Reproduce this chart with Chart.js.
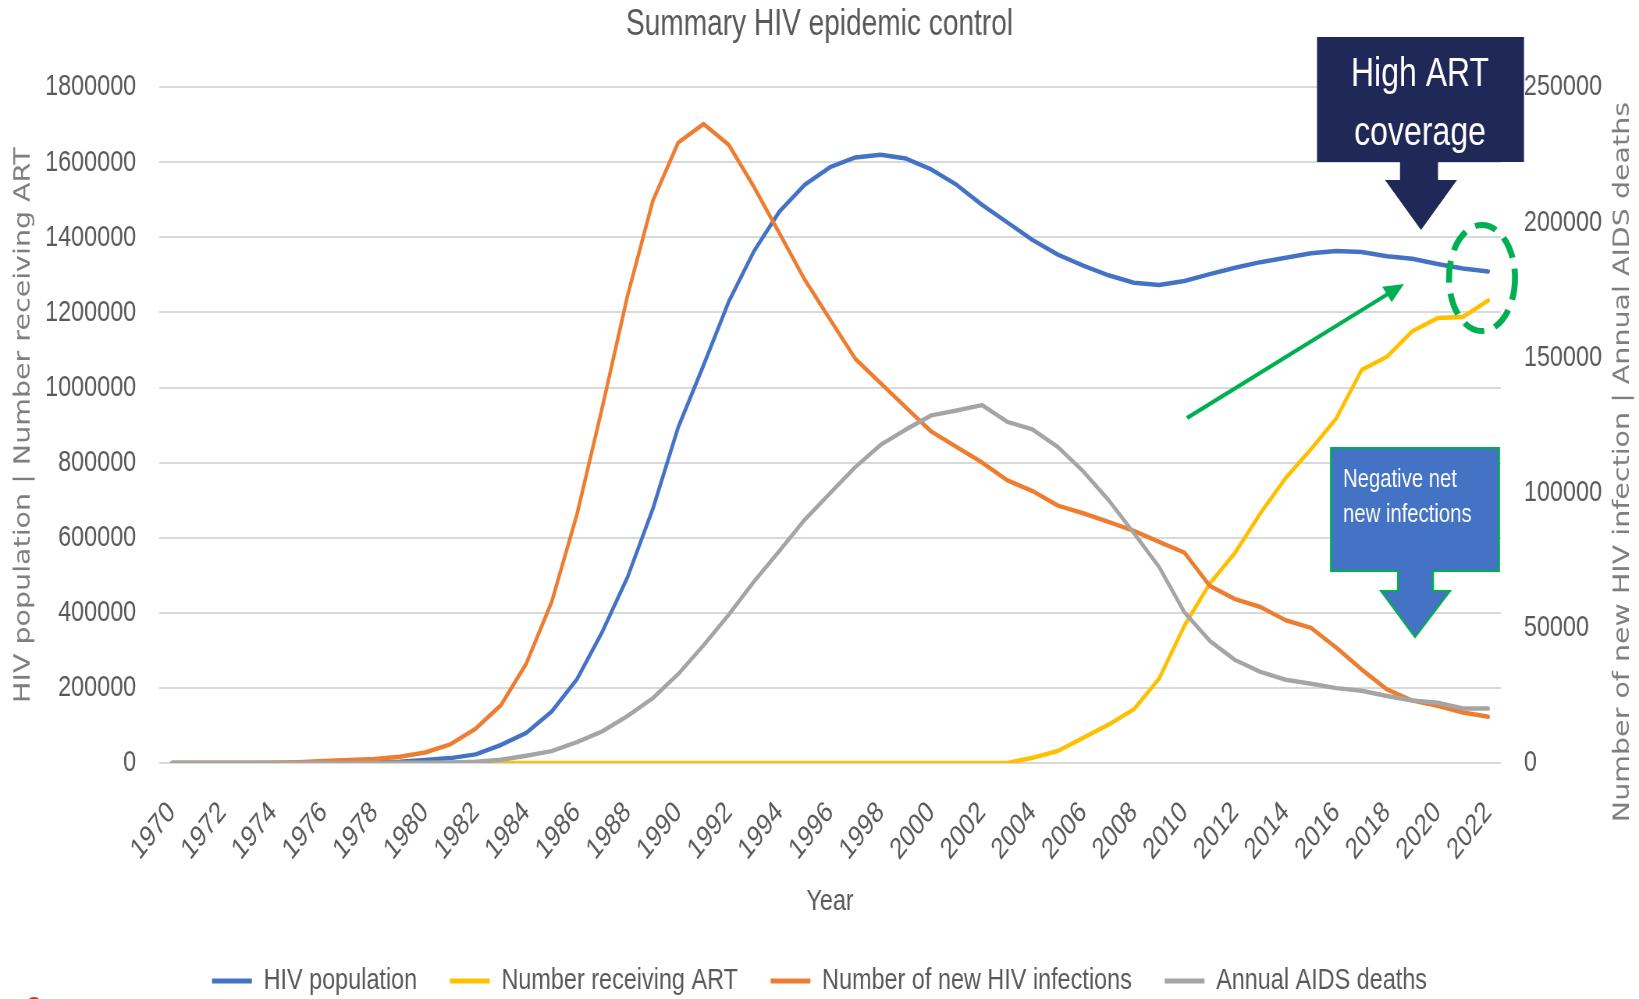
<!DOCTYPE html>
<html>
<head>
<meta charset="utf-8">
<title>Summary HIV epidemic control</title>
<script src="https://cdn.jsdelivr.net/npm/chart.js@4.4.1/dist/chart.umd.min.js"></script>
<style>
  html, body { margin: 0; padding: 0; background: #fff; overflow: hidden; }
  /* the source picture is an Excel chart squeezed sideways; draw wide, then squeeze */
  #hivChart { transform: scaleX(0.780476); transform-origin: 0 0; }
</style>
</head>
<body>
<canvas id="hivChart" width="2100" height="999"></canvas>
<script>
const years = [
  '1970', '1971', '1972', '1973', '1974', '1975', '1976', '1977', '1978', '1979',
  '1980', '1981', '1982', '1983', '1984', '1985', '1986', '1987', '1988', '1989',
  '1990', '1991', '1992', '1993', '1994', '1995', '1996', '1997', '1998', '1999',
  '2000', '2001', '2002', '2003', '2004', '2005', '2006', '2007', '2008', '2009',
  '2010', '2011', '2012', '2013', '2014', '2015', '2016', '2017', '2018', '2019',
  '2020', '2021', '2022'
];

// left axis
const hivPopulation = [
  0, 0, 0, 0, 0, 200, 500, 900, 1600, 3500,
  8000, 13000, 23000, 48000, 80000, 137000, 223000, 349000, 495000, 677000,
  894000, 1059000, 1229000, 1364000, 1469000, 1540000, 1587000, 1613000, 1620000, 1610000,
  1581000, 1540000, 1487000, 1440000, 1393000, 1354000, 1325000, 1299000, 1279000, 1273000,
  1284000, 1302000, 1319000, 1334000, 1346000, 1358000, 1364000, 1361000, 1350000, 1343000,
  1329000, 1317000, 1309000
];
const receivingArt = [
  0, 0, 0, 0, 0, 0, 0, 0, 0, 0,
  0, 0, 0, 0, 0, 0, 0, 0, 0, 0,
  0, 0, 0, 0, 0, 0, 0, 0, 0, 0,
  0, 0, 0, 0, 14000, 32000, 67000, 102000, 143000, 225000,
  366000, 478000, 560000, 665000, 759000, 836000, 918000, 1047000, 1082000, 1150000,
  1185000, 1188000, 1232000
];

// right axis
const newInfections = [
  0, 0, 0, 0, 100, 300, 700, 1100, 1500, 2300,
  3900, 6900, 12700, 21400, 36800, 59500, 91900, 131500, 172900, 208000,
  229500, 236400, 228700, 213000, 196000, 178800, 164100, 149500, 140500, 131500,
  122600, 116900, 111200, 104600, 100600, 95200, 92400, 89200, 85900, 81800,
  77800, 65500, 60600, 57700, 52800, 50000, 42700, 34600, 27200, 23100,
  21200, 18700, 17100
];
const aidsDeaths = [
  0, 0, 0, 0, 0, 0, 0, 0, 0, 0,
  0, 200, 500, 1200, 2700, 4400, 7700, 11700, 17400, 24000,
  32900, 43500, 54900, 67200, 78500, 90000, 99800, 109500, 117700, 123400,
  128600, 130400, 132400, 126200, 123400, 116900, 107900, 97300, 85100, 72500,
  55700, 45200, 38100, 33700, 30800, 29300, 27700, 26700, 24800, 23100,
  22300, 20200, 20200
];

const leftTicks = { min: 0, max: 1800000, step: 200000 };
const rightTicks = { min: 0, max: 250000, step: 50000 };

const squeeze = 1639 / 2100;
const sans = "'Liberation Sans', Arial, sans-serif";
const wide = "'DejaVu Sans', Verdana, sans-serif";
const textGrey = '#595959';
const titleGrey = '#7f7f7f';

// callouts, arrow, ring and the right hand axis title (reads bottom to top)
const annotate = {
  id: 'annotate',
  afterDraw(chart) {
    const c = chart.ctx;

    c.save();
    c.translate(1623 / squeeze, 462);
    c.rotate(-Math.PI / 2);
    c.fillStyle = titleGrey;
    c.font = '28.5px ' + wide;
    c.textAlign = 'center';
    c.textBaseline = 'middle';
    c.fillText('Number of new HIV infection | Annual AIDS deaths', 0, 0);
    c.restore();

    // shapes given in picture pixels, so undo the squeeze for them
    c.save();
    c.scale(1 / squeeze, 1);

    c.strokeStyle = '#00b050';
    c.fillStyle = '#00b050';
    c.lineWidth = 4;
    const x0 = 1187, y0 = 418, x1 = 1404, y1 = 284;
    const ang = Math.atan2(y1 - y0, x1 - x0);
    c.beginPath();
    c.moveTo(x0, y0);
    c.lineTo(x1 - 14 * Math.cos(ang), y1 - 14 * Math.sin(ang));
    c.stroke();
    c.beginPath();
    c.moveTo(x1, y1);
    c.lineTo(x1 - 20 * Math.cos(ang) + 9 * Math.sin(ang), y1 - 20 * Math.sin(ang) - 9 * Math.cos(ang));
    c.lineTo(x1 - 20 * Math.cos(ang) - 9 * Math.sin(ang), y1 - 20 * Math.sin(ang) + 9 * Math.cos(ang));
    c.closePath();
    c.fill();

    c.lineWidth = 6;
    c.setLineDash([22, 11]);
    c.beginPath();
    c.ellipse(1482, 278, 33, 53, 0, 0, Math.PI * 2);
    c.stroke();
    c.setLineDash([]);

    c.fillStyle = '#1f2857';
    c.beginPath();
    c.moveTo(1317, 37); c.lineTo(1524, 37); c.lineTo(1524, 162);
    c.lineTo(1438, 162); c.lineTo(1438, 180); c.lineTo(1457, 180);
    c.lineTo(1421, 230);
    c.lineTo(1385, 180); c.lineTo(1400, 180); c.lineTo(1400, 162);
    c.lineTo(1317, 162);
    c.closePath();
    c.fill();

    c.fillStyle = '#4472c4';
    c.strokeStyle = '#00b050';
    c.lineWidth = 2;
    c.beginPath();
    c.moveTo(1331, 448); c.lineTo(1499, 448); c.lineTo(1499, 571);
    c.lineTo(1433, 571); c.lineTo(1433, 591); c.lineTo(1450, 591);
    c.lineTo(1415, 637);
    c.lineTo(1381, 591); c.lineTo(1398, 591); c.lineTo(1398, 571);
    c.lineTo(1331, 571);
    c.closePath();
    c.fill();
    c.stroke();

    c.fillStyle = '#c0392b';
    c.beginPath();
    c.arc(34, 1005, 8, 0, Math.PI * 2);
    c.fill();
    c.restore();

    // callout text is squeezed like the chart text
    c.save();
    c.fillStyle = '#ffffff';
    c.textBaseline = 'alphabetic';
    c.textAlign = 'center';
    c.font = '41px ' + sans;
    c.fillText('High ART', 1420 / squeeze, 86);
    c.fillText('coverage', 1420 / squeeze, 145);
    c.textAlign = 'left';
    c.font = '26px ' + sans;
    c.fillText('Negative net', 1343 / squeeze, 487);
    c.fillText('new infections', 1343 / squeeze, 522);
    c.restore();
  }
};

const ctx = document.getElementById('hivChart');

const data = {
  labels: years,
  datasets: [
    {
      label: 'HIV population',
      data: hivPopulation,
      borderColor: '#4472c4',
      backgroundColor: '#4472c4',
      yAxisID: 'y',
      order: 4,
    },
    {
      label: 'Number receiving ART',
      data: receivingArt,
      borderColor: '#ffc000',
      backgroundColor: '#ffc000',
      yAxisID: 'y',
      order: 3,
    },
    {
      label: 'Number of new HIV infections',
      data: newInfections,
      borderColor: '#ed7d31',
      backgroundColor: '#ed7d31',
      yAxisID: 'y1',
      order: 2,
    },
    {
      label: 'Annual AIDS deaths',
      data: aidsDeaths,
      borderColor: '#a5a5a5',
      backgroundColor: '#a5a5a5',
      yAxisID: 'y1',
      order: 1,
    },
  ],
};

const chart = new Chart(ctx, {
  type: 'line',
  data: data,
  plugins: [annotate],
  options: {
    responsive: false,
    animation: false,
    devicePixelRatio: 1,
    layout: { padding: { left: 0, right: 0, top: 0, bottom: -7 } },
    elements: {
      line: { borderWidth: 4.5, tension: 0, borderCapStyle: 'round', borderJoinStyle: 'round' },
      point: { radius: 0, hoverRadius: 0 },
    },
    plugins: {
      title: {
        display: true,
        text: 'Summary HIV epidemic control',
        color: textGrey,
        font: { family: sans, size: 36, weight: 'normal' },
        padding: { top: 3, bottom: 41 },
      },
      legend: {
        position: 'bottom',
        labels: {
          color: textGrey,
          font: { family: sans, size: 30 },
          boxWidth: 51,
          boxHeight: 5,
          padding: 42,
          sort: (a, b) => a.datasetIndex - b.datasetIndex,
          generateLabels(chart) {
            return Chart.defaults.plugins.legend.labels.generateLabels(chart)
              .map(item => Object.assign(item, { lineWidth: 0 }));
          },
        },
      },
      tooltip: { enabled: false },
    },
    scales: {
      x: {
        offset: true,
        grid: { display: false, drawTicks: false },
        border: { display: false },
        ticks: {
          autoSkip: false,
          minRotation: 45,
          maxRotation: 45,
          padding: 32,
          color: textGrey,
          font: { family: sans, size: 30 },
          callback(value, index) {
            return index % 2 === 0 ? this.getLabelForValue(value) : '';
          },
        },
        title: {
          display: true,
          text: 'Year',
          color: textGrey,
          font: { family: sans, size: 30 },
          padding: { top: 0, bottom: 4 },
        },
        afterFit(scale) {
          scale.height = scale.chart.height + 7 - 763 - scale.chart.legend.height;
        },
      },
      y: {
        position: 'left',
        min: leftTicks.min,
        max: leftTicks.max,
        grid: { color: '#d9d9d9', lineWidth: 2, drawTicks: false },
        border: { display: false },
        ticks: {
          stepSize: leftTicks.step,
          padding: 29.5,
          color: textGrey,
          font: { family: sans, size: 30 },
          callback: v => String(v),
        },
        title: {
          display: true,
          text: 'HIV population | Number receiving ART',
          color: titleGrey,
          font: { family: wide, size: 28.5 },
          padding: { top: 13.5, bottom: 0 },
        },
        afterFit(scale) { scale.width = 204; },
      },
      y1: {
        position: 'right',
        min: rightTicks.min,
        max: rightTicks.max,
        grid: { drawOnChartArea: false, drawTicks: false },
        border: { display: false },
        ticks: {
          stepSize: rightTicks.step,
          padding: 29.5,
          color: textGrey,
          font: { family: sans, size: 30 },
          callback: v => String(v),
        },
        afterFit(scale) { scale.width = 177; },
      },
    },
  },
});
</script>
</body>
</html>
